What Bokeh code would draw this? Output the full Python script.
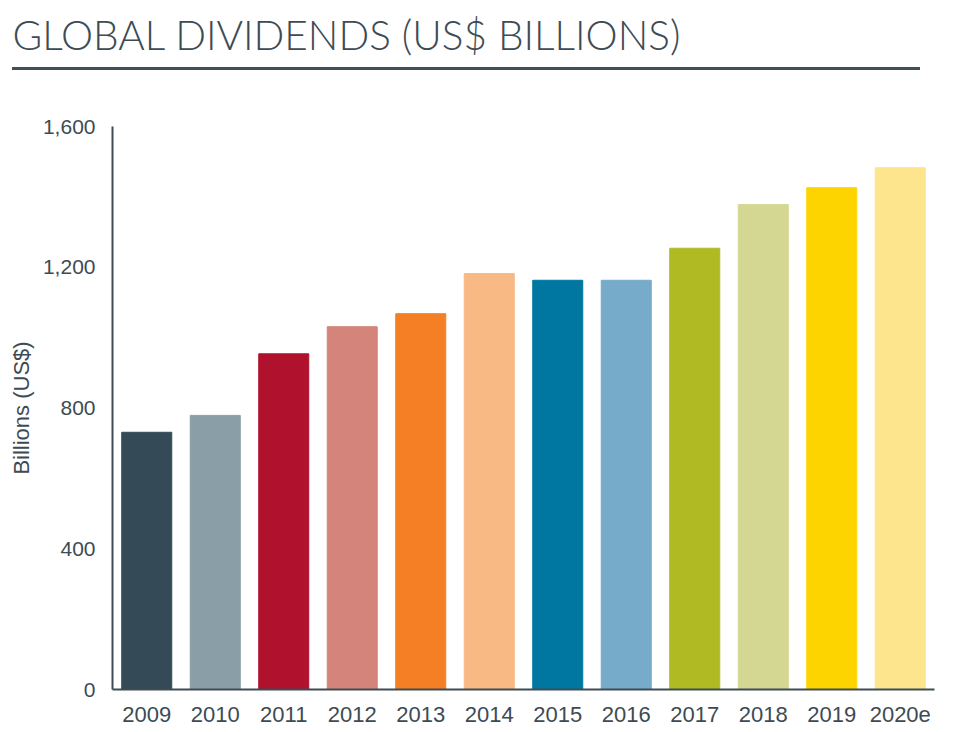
from bokeh.plotting import figure
from bokeh.layouts import column
from bokeh.models import (FixedTicker, NumeralTickFormatter, ColumnDataSource, Range1d,
                          Title, Div)
from bokeh.embed import file_html
from bokeh.resources import INLINE

years = ["2009", "2010", "2011", "2012", "2013", "2014", "2015", "2016", "2017", "2018", "2019", "2020e"]
dividends = [731, 779, 954, 1031, 1068, 1182, 1163, 1163, 1254, 1378, 1426, 1483]
colors = ["#344a56", "#8a9ea8", "#b0122e", "#d4847a", "#f47f24", "#f8b985",
          "#0077a0", "#76abc9", "#b0bb24", "#d4d792", "#fdd400", "#fde58e"]
y_ticks = [0, 400, 800, 1200, 1600]
title_text = "GLOBAL DIVIDENDS (US$ BILLIONS)"
y_label = "Billions (US$)"

TEXT = "#3d4b54"
FONT = "Liberation Sans"
TITLE_FONT = "Lato Light, Lato, Liberation Sans"
W = 950

# header: title only
head = figure(width=W, height=67, output_backend="svg", toolbar_location=None,
              x_axis_location=None, y_axis_location=None,
              min_border_left=112, min_border_right=16, min_border_top=62, min_border_bottom=0)
head.grid.visible = False
head.outline_line_color = None
head.title = Title(text=title_text, align="left", offset=-100, standoff=8,
                   text_font=TITLE_FONT, text_font_size="40.5px", text_font_style="normal",
                   text_color=TEXT)

# horizontal rule under the title
rule = Div(text="", width=908, height=3, margin=(0, 0, 0, 12),
           styles={"background-color": "#3f5059"})

# chart
src = ColumnDataSource(dict(year=years, val=dividends, color=colors))
p = figure(width=W, height=660, x_range=years, y_range=Range1d(0, 1600),
           output_backend="svg", toolbar_location=None,
           min_border_left=112, min_border_right=16,
           min_border_top=56, min_border_bottom=41)
p.vbar(x="year", top="val", width=0.73, color="color", source=src)

p.grid.visible = False
p.outline_line_color = None

p.yaxis.ticker = FixedTicker(ticks=y_ticks)
p.yaxis.formatter = NumeralTickFormatter(format="0,0")
p.yaxis.axis_label = y_label
p.yaxis.axis_label_text_font = FONT
p.yaxis.axis_label_text_font_size = "22px"
p.yaxis.axis_label_text_font_style = "normal"
p.yaxis.axis_label_text_color = TEXT
p.yaxis.axis_label_standoff = 6

for ax in (p.xaxis, p.yaxis):
    ax.major_tick_line_color = None
    ax.minor_tick_line_color = None
    ax.axis_line_color = "#3d4c55"
    ax.axis_line_width = 2
    ax.major_label_text_font = FONT
    ax.major_label_text_color = TEXT

p.yaxis.major_label_text_font_size = "21px"
p.xaxis.major_label_text_font_size = "22px"
p.yaxis.major_label_standoff = 11
p.xaxis.major_label_standoff = 11

layout = column(head, rule, p, spacing=0)
open("out.html", "w").write(file_html(layout, INLINE))
